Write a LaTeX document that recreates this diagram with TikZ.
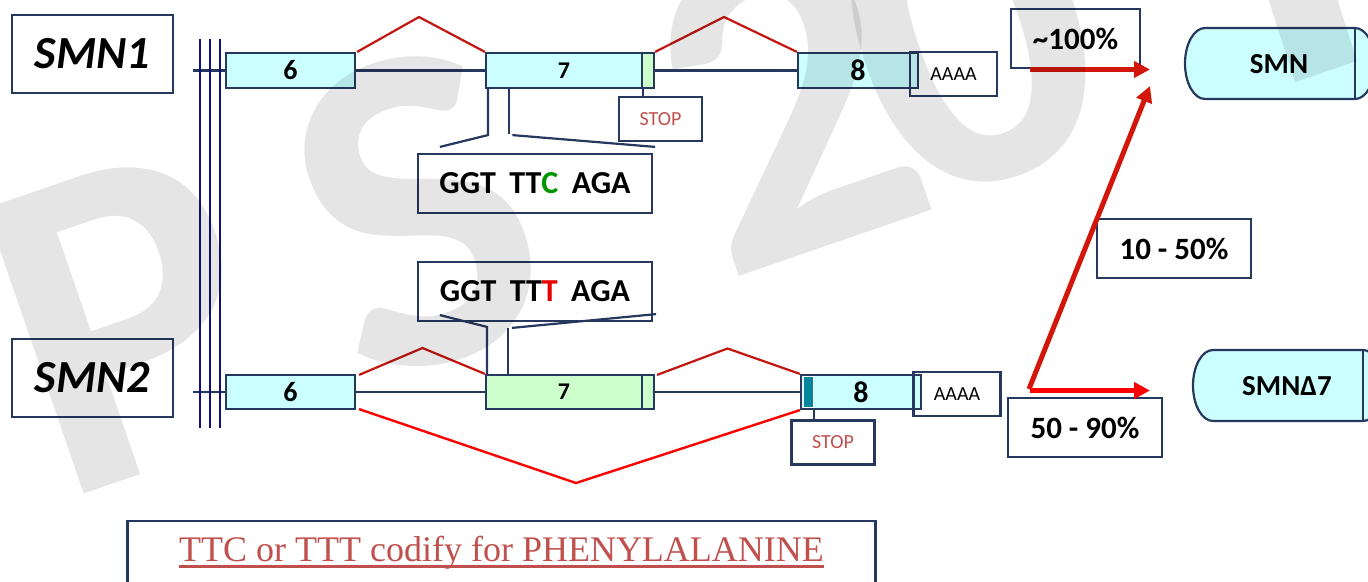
\documentclass[tikz,border=0pt]{standalone}
\usepackage{fontspec}
\setmainfont{Carlito}
\newfontfamily\notefont{Liberation Serif}
\usetikzlibrary{arrows.meta}

\newcommand\pxfont[1]{\fontsize{#1}{#1}\selectfont}

\definecolor{frame}{RGB}{38,56,94}
\definecolor{bar}{RGB}{16,16,122}
\definecolor{exoncyan}{RGB}{204,255,255}
\definecolor{exongreen}{RGB}{204,255,204}
\definecolor{tealmark}{RGB}{0,134,155}
\definecolor{splice}{RGB}{196,22,16}
\definecolor{skip}{RGB}{255,0,0}
\definecolor{stopred}{RGB}{192,80,77}
\definecolor{codonC}{RGB}{0,150,0}
\definecolor{codonT}{RGB}{230,0,0}
\definecolor{arrowdark}{RGB}{210,22,10}

\pgfdeclarelayer{paper}
\pgfdeclarelayer{wires}
\pgfsetlayers{paper,wires,main}

\tikzset{
  box/.style={draw=frame, line width=2.2pt, fill=white, inner sep=0pt},
  genebox/.style={box, minimum width=161pt, minimum height=78pt,
    font=\bfseries\itshape\pxfont{46}},
  exon/.style={draw=frame, fill=exoncyan, line width=2.2pt, inner sep=0pt,
    minimum height=35pt, font=\bfseries\pxfont{28}},
  exontail/.style={exon, fill=exongreen, minimum width=12pt},
  polya/.style={draw=frame, line width=2.2pt, inner sep=0pt,
    minimum width=87pt, minimum height=44pt, font=\pxfont{20}},
  stopbox/.style={box, minimum width=83pt, minimum height=44pt,
    text=stopred, font=\pxfont{20}},
  codonbox/.style={box, minimum width=234pt, minimum height=59pt,
    font=\bfseries\pxfont{32}},
  pctbox/.style={box, minimum height=59pt, font=\bfseries\pxfont{31}},
  capsule/.style={draw=frame, fill=exoncyan, line width=2.2pt},
  captext/.style={inner sep=0pt, font=\bfseries\pxfont{29}},
  link/.style={draw=frame, line width=2.2pt},
  backbone/.style={draw=frame, line width=2.4pt},
  bar/.style={draw=bar, line width=2.4pt},
  splice/.style={draw=splice, line width=2.2pt},
  skipline/.style={draw=skip, line width=2.4pt},
  bigarrow/.style={line width=5pt, -{Triangle[length=16pt,width=16pt]}},
  wmglyph/.style={inner sep=0pt, rotate=19, text=black, opacity=0.1,
    font=\bfseries\pxfont{465}},
}

\begin{document}
\begin{tikzpicture}[x=1pt, y=-1pt]
\begin{pgfonlayer}{paper}
  \fill[white] (0,0) rectangle (1368,581);
\end{pgfonlayer}
\useasboundingbox (0,0) rectangle (1368,581);

% gene labels
\node[genebox] (smn1) at (92.5,54) {SMN1};
\node[genebox] (smn2) at (92.5,378) {SMN2};

% chromosome bars
\draw[bar] (200,39) -- (200,428);
\draw[bar] (210,39) -- (210,428);
\draw[bar] (220,39) -- (220,428);

% SMN1 gene
\coordinate (bb1) at (193,70.5);
\node[exon, minimum width=129pt] (e6a) at (290.5,70.5) {6};
\node[exon, minimum width=156pt, font=\bfseries\pxfont{24}] (e7a) at (564,70.5) {7};
\node[exontail] (e7aend) at (648,70.5) {};
\node[exon, minimum width=120pt, font=\bfseries\pxfont{30}] (e8a) at (858,70.5) {8};
\node[polya] (pa1) at (953.5,74) {AAAA};
\node[stopbox] (stop1) at (660.5,119) {STOP};
\node[codonbox] (cod1) at (535,183.5)
  {GGT\hspace{0.42em}TT{\color{codonC}C}\hspace{0.42em}AGA};

% SMN2 gene
\coordinate (bb2) at (193,392);
\node[exon, minimum width=129pt, minimum height=34pt] (e6b) at (290.5,392) {6};
\node[exon, fill=exongreen, minimum width=156pt, minimum height=34pt,
  font=\bfseries\pxfont{24}] (e7b) at (564,392) {7};
\node[exontail, minimum height=34pt] (e7bend) at (648,392) {};
\node[exon, minimum width=120pt, minimum height=34pt, font=\bfseries\pxfont{30}]
  (e8b) at (861,392) {8};
\node[draw=white, line width=1.5pt, fill=tealmark, inner sep=0pt,
  minimum width=10pt, minimum height=31pt] (mark8) at (808.7,392) {};
\node[polya] (pa2) at (957,394) {AAAA};
\node[stopbox] (stop2) at (833,442.5) {STOP};
\node[codonbox] (cod2) at (535,291.5)
  {GGT\hspace{0.42em}TT{\color{codonT}T}\hspace{0.42em}AGA};

% introns behind the exons
\begin{pgfonlayer}{wires}
  \draw[backbone] (bb1) -- (e8a.west);
  \draw[backbone] (bb2) -- (e8b.west);
\end{pgfonlayer}

% splicing of SMN1
\coordinate (pk1) at (419,17);
\coordinate (pk2) at (724,17);
\draw[splice] ([xshift=1pt]e6a.north east) -- (pk1) -- (e7a.north west);
\draw[splice] (e7aend.north east) -- (pk2) -- (e8a.north west);

% splicing of SMN2
\coordinate (pk3) at (422.5,348);
\coordinate (pk4) at (727.5,348.5);
\coordinate (pk5) at (576,483);
\draw[splice] ([xshift=3pt,yshift=-1pt]e6b.north east) -- (pk3) -- (e7b.north west);
\draw[splice] ([xshift=2pt,yshift=-1pt]e7bend.north east) -- (pk4) -- (e8b.north west);
\draw[skipline] ([xshift=3pt,yshift=1pt]e6b.south east) -- (pk5) -- (e8b.south west);

% codon callouts
\draw[link] ([xshift=3pt]e7a.south west) -- ++(0,46)
  -- ([xshift=23pt,yshift=6pt]cod1.north west);
\draw[link] ([xshift=24pt]e7a.south west) -- ++(0,45);
\draw[link] ([xshift=27.5pt,yshift=-46pt]e7a.south west)
  -- ([xshift=2pt,yshift=6pt]cod1.north east);
\draw[link] ([xshift=23pt,yshift=7pt]cod2.south west)
  -- ([xshift=2pt,yshift=47pt]e7b.north west) -- ([xshift=2pt]e7b.north west);
\draw[link] ([xshift=23pt]e7b.north west) -- ++(0,-46);
\draw[link] ([xshift=27pt,yshift=46pt]e7b.north west)
  -- ([xshift=3pt,yshift=8pt]cod2.south east);

% stop codon pointers
\draw[link] (e7a.south east) -- ([yshift=-2pt]stop1.north -| e7a.south east);
\draw[link] ([xshift=14pt]e8b.south west) -- ++(0,12);

% products
\draw[capsule] (1205,28) arc[start angle=90, end angle=270, x radius=20pt, y radius=35.5pt]
  -- (1355,99) arc[start angle=-90, end angle=90, x radius=20pt, y radius=35.5pt] -- cycle;
\draw[link] (1355,28) -- (1355,99);
\node[captext] (smn) at (1279,64) {SMN};
\draw[capsule] (1213,350) arc[start angle=90, end angle=270, x radius=20pt, y radius=35.5pt]
  -- (1363,421) arc[start angle=-90, end angle=90, x radius=20pt, y radius=35.5pt] -- cycle;
\draw[link] (1363,350) -- (1363,421);
\node[captext] (smnd7) at (1287,386) {SMNΔ7};

% percentages
\node[pctbox, minimum width=129pt] (p100) at (1075.5,38.5) {\~{}100\%};
\node[pctbox, minimum width=154pt] (p1050) at (1174,248.5) {10 - 50\%};
\node[pctbox, minimum width=154pt] (p5090) at (1085,427.5) {50 - 90\%};

% note
\node[box, minimum width=748pt, minimum height=80pt] (notebox) at (501.5,561) {};
\node[inner sep=0pt, text=stopred, font=\notefont\pxfont{36}] (note) at (501.5,553)
  {TTC or TTT codify for PHENYLALANINE};
\draw[stopred, line width=2.6pt] ([yshift=-5pt]note.base west) -- ([yshift=-5pt]note.base east);

% arrows
\coordinate (a1s) at (1030,69.5);
\coordinate (smnin) at (1150,69.5);
\coordinate (fork) at (1029,389);
\coordinate (smnup) at (1150,86);
\coordinate (fork2) at (1030,390.5);
\coordinate (d7in) at (1150,390.5);
\draw[bigarrow, arrowdark] (a1s) -- (smnin);
\draw[bigarrow, arrowdark] (fork) -- (smnup);
\draw[bigarrow, skip] (fork2) -- (d7in);

% faint watermark over the figure
\node[wmglyph] (wmP) at (127,320) {P};
\node[wmglyph] (wmS) at (416,212) {S};
\node[wmglyph] (wm2) at (786,99) {2};
\node[wmglyph] (wm0) at (969,30) {0};
\fill[black, opacity=0.1] (1267,-5) -- (1295,82) -- (1357,61) -- (1336,-5) -- cycle;
\end{tikzpicture}
\end{document}
